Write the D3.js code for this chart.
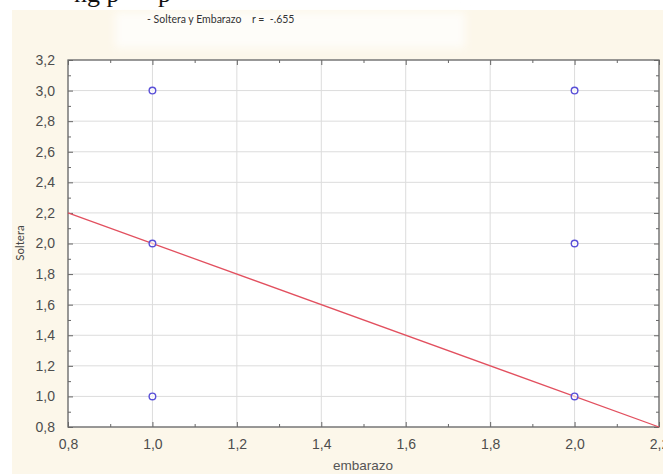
<!DOCTYPE html>
<html>
<head>
<meta charset="utf-8">
<script src="https://cdn.jsdelivr.net/npm/d3@7"></script>
<style>
  html, body { margin: 0; padding: 0; background: #ffffff; }
  svg { display: block; }
</style>
</head>
<body>
<script>
// Observed pairs (embarazo, soltera)
const embarazo = [1, 1, 1, 2, 2, 2];
const soltera  = [1, 2, 3, 1, 2, 3];

// Fitted regression line end points
const fitX = [0.8, 2.2];
const fitY = [2.2, 0.8];

// Axis ticks
const xTicks = [0.8, 1.0, 1.2, 1.4, 1.6, 1.8, 2.0, 2.2];
const yTicks = [0.8, 1.0, 1.2, 1.4, 1.6, 1.8, 2.0, 2.2, 2.4, 2.6, 2.8, 3.0, 3.2];
const xMinor = [0.9, 1.1, 1.3, 1.5, 1.7, 1.9, 2.1];
const yMinor = [0.9, 1.1, 1.3, 1.5, 1.7, 1.9, 2.1, 2.3, 2.5, 2.7, 2.9, 3.1];

const title = "- Soltera y Embarazo";
const rText = "r =  -.655";
const xTitle = "embarazo";
const yTitle = "Soltera";

const W = 663, H = 474;
const plot = { left: 68, right: 659, top: 60, bottom: 427 };

const svg = d3.select("body").append("svg")
  .attr("width", W).attr("height", H);

// page background
svg.append("rect").attr("x", 0).attr("y", 0).attr("width", W).attr("height", H).attr("fill", "#ffffff");
svg.append("rect").attr("x", 12).attr("y", 10).attr("width", W - 12).attr("height", H - 10).attr("fill", "#fcf7ea");
const defs = svg.append("defs");
defs.append("filter").attr("id", "soft").attr("x", "-10%").attr("y", "-30%").attr("width", "120%").attr("height", "160%")
  .append("feGaussianBlur").attr("stdDeviation", 4);
svg.append("rect").attr("x", 115).attr("y", 12).attr("width", 350).attr("height", 36)
  .attr("fill", "#fefdf9").attr("filter", "url(#soft)");

// descenders of the document line above the chart
svg.append("text").attr("x", 74).attr("y", 2)
  .attr("font-family", "Liberation Serif, serif").attr("font-size", 26).attr("fill", "#111")
  .text("ng p");
svg.append("text").attr("x", 158).attr("y", 2)
  .attr("font-family", "Liberation Serif, serif").attr("font-size", 26).attr("fill", "#111")
  .text("p");

// title
svg.append("text").attr("x", 147).attr("y", 23)
  .attr("font-family", "Lato, sans-serif").attr("font-size", 10.5).attr("fill", "#333")
  .text(title);
svg.append("text").attr("x", 252).attr("y", 23)
  .attr("font-family", "Lato, sans-serif").attr("font-size", 10.5).attr("fill", "#333")
  .attr("xml:space", "preserve").style("white-space", "pre")
  .text(rText);

const x = d3.scaleLinear().domain([0.8, 2.2]).range([plot.left, plot.right]);
const y = d3.scaleLinear().domain([0.8, 3.2]).range([plot.bottom, plot.top]);

const loc = d3.formatLocale({ decimal: ",", thousands: ".", grouping: [3], currency: ["", ""] });
const fmt = loc.format(".1f");

// plot area
svg.append("rect").attr("x", plot.left).attr("y", plot.top)
  .attr("width", plot.right - plot.left).attr("height", plot.bottom - plot.top)
  .attr("fill", "#ffffff");

// grid
const grid = svg.append("g").attr("stroke", "#dcdcdc").attr("stroke-width", 1);
grid.selectAll("line.v").data(xTicks).join("line")
  .attr("x1", d => x(d)).attr("x2", d => x(d))
  .attr("y1", plot.top).attr("y2", plot.bottom);
grid.selectAll("line.h").data(yTicks).join("line")
  .attr("y1", d => y(d)).attr("y2", d => y(d))
  .attr("x1", plot.left).attr("x2", plot.right);

// axes with inward ticks on all four sides
function styleAxis(g) {
  g.select(".domain").remove();
  g.selectAll(".tick line").attr("stroke", "#666");
}
const axisColor = "#6a6a6a";

svg.append("g").attr("transform", `translate(0,${plot.bottom})`)
  .call(d3.axisBottom(x).tickValues(xTicks).tickSize(-5).tickPadding(12).tickFormat(fmt))
  .call(styleAxis)
  .call(g => g.selectAll("text").attr("font-family", "Liberation Sans, Arial, sans-serif")
    .attr("font-size", 14).attr("fill", "#4d4d4d"));
svg.append("g").attr("transform", `translate(0,${plot.bottom})`)
  .call(d3.axisBottom(x).tickValues(xMinor).tickSize(-3).tickFormat(""))
  .call(styleAxis);
svg.append("g").attr("transform", `translate(0,${plot.top})`)
  .call(d3.axisTop(x).tickValues(xTicks).tickSize(-5).tickFormat(""))
  .call(styleAxis);
svg.append("g").attr("transform", `translate(0,${plot.top})`)
  .call(d3.axisTop(x).tickValues(xMinor).tickSize(-3).tickFormat(""))
  .call(styleAxis);

svg.append("g").attr("transform", `translate(${plot.left},0)`)
  .call(d3.axisLeft(y).tickValues(yTicks).tickSize(-5).tickPadding(13).tickFormat(fmt))
  .call(styleAxis)
  .call(g => g.selectAll("text").attr("font-family", "Liberation Sans, Arial, sans-serif")
    .attr("font-size", 14).attr("fill", "#4d4d4d"));
svg.append("g").attr("transform", `translate(${plot.left},0)`)
  .call(d3.axisLeft(y).tickValues(yMinor).tickSize(-3).tickFormat(""))
  .call(styleAxis);
svg.append("g").attr("transform", `translate(${plot.right},0)`)
  .call(d3.axisRight(y).tickValues(yTicks).tickSize(-5).tickFormat(""))
  .call(styleAxis);
svg.append("g").attr("transform", `translate(${plot.right},0)`)
  .call(d3.axisRight(y).tickValues(yMinor).tickSize(-3).tickFormat(""))
  .call(styleAxis);

// frame
svg.append("rect").attr("x", plot.left).attr("y", plot.top)
  .attr("width", plot.right - plot.left).attr("height", plot.bottom - plot.top)
  .attr("fill", "none").attr("stroke", axisColor).attr("stroke-width", 1.3);

// regression line
const fit = fitX.map((d, i) => [d, fitY[i]]);
svg.append("path").datum(fit)
  .attr("d", d3.line().x(d => x(d[0])).y(d => y(d[1])))
  .attr("fill", "none").attr("stroke", "#e2505f").attr("stroke-width", 1.3);

// points
const pts = embarazo.map((d, i) => [d, soltera[i]]);
svg.append("g").selectAll("circle").data(pts).join("circle")
  .attr("cx", d => x(d[0])).attr("cy", d => y(d[1])).attr("r", 3.3)
  .attr("fill", "#ffffff").attr("fill-opacity", 0.6)
  .attr("stroke", "#5a50d8").attr("stroke-width", 1.4);

// axis titles
svg.append("text").attr("x", 363).attr("y", 470).attr("text-anchor", "middle")
  .attr("font-family", "Liberation Sans, Arial, sans-serif").attr("font-size", 13.5).attr("fill", "#555")
  .text(xTitle);
svg.append("text").attr("transform", "translate(24,243) rotate(-90)").attr("text-anchor", "middle")
  .attr("font-family", "Lato, sans-serif").attr("font-size", 11.5).attr("fill", "#444")
  .text(yTitle);
</script>
</body>
</html>
